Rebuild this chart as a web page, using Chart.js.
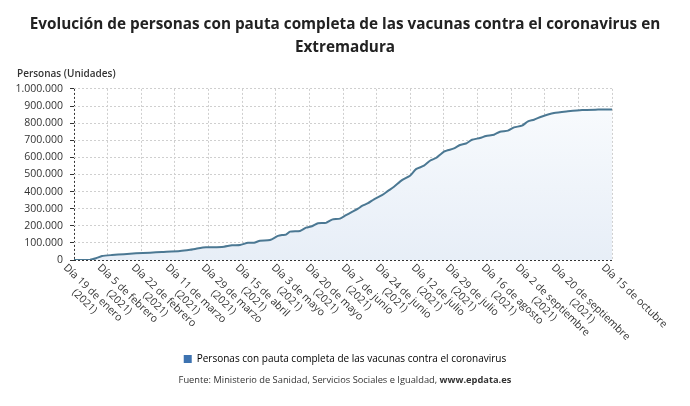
<!DOCTYPE html>
<html lang="es">
<head>
<meta charset="utf-8">
<title>Personas con pauta completa - Extremadura</title>
<script src="https://cdn.jsdelivr.net/npm/chart.js@4.4.1/dist/chart.umd.min.js"></script>
<style>
  html, body { margin: 0; padding: 0; background: #fff; }
</style>
</head>
<body>
<canvas id="grafico" width="690" height="406"></canvas>
<script>
// días transcurridos desde el 19 de enero de 2021
const dias = [0, 8, 11, 14, 19, 25, 31, 38, 44, 53, 58, 61, 66, 74, 79, 83, 87, 90, 93, 98,
  102, 104, 106, 108, 113, 116, 119, 122, 126, 129, 133, 136, 139, 142, 144, 147, 150, 154, 157, 160,
  164, 168, 171, 175, 178, 181, 185, 190, 193, 196, 199, 203, 206, 210, 213, 217, 220, 224, 227, 230,
  234, 240, 247, 254, 262, 269];
const personas = [0, 1000, 10000, 23000, 29000, 34000, 39000, 43000, 47000, 53000, 60000, 66000, 74000, 76000, 86000, 88000, 101000, 101000, 113000, 117000,
  141000, 146000, 148000, 166000, 170000, 189000, 197000, 215000, 217000, 236000, 242000, 262000, 281000, 300000, 316000, 332000, 355000, 379000, 404000, 428000,
  467000, 492000, 531000, 551000, 580000, 596000, 634000, 652000, 672000, 681000, 703000, 713000, 725000, 732000, 750000, 756000, 775000, 785000, 810000, 820000,
  839000, 859000, 869000, 877000, 879000, 880000];

const fechaInicio = '2021-01-19';
const fechaFin = '2021-10-15';
const fechasEtiqueta = ['2021-01-19', '2021-02-05', '2021-02-22', '2021-03-11', '2021-03-29', '2021-04-15',
  '2021-05-03', '2021-05-20', '2021-06-07', '2021-06-24', '2021-07-12', '2021-07-29', '2021-08-16',
  '2021-09-02', '2021-09-20', '2021-10-15'];
const textosEtiqueta = [
  ['Día 19 de enero', '(2021)'], ['Día 5 de febrero', '(2021)'], ['Día 22 de febrero', '(2021)'],
  ['Día 11 de marzo', '(2021)'], ['Día 29 de marzo', '(2021)'], ['Día 15 de abril', '(2021)'],
  ['Día 3 de mayo', '(2021)'], ['Día 20 de mayo', '(2021)'], ['Día 7 de junio', '(2021)'],
  ['Día 24 de junio', '(2021)'], ['Día 12 de julio', '(2021)'], ['Día 29 de julio', '(2021)'],
  ['Día 16 de agosto', '(2021)'], ['Día 2 de septiembre', '(2021)'], ['Día 20 de septiembre', '(2021)'],
  ['Día 15 de octubre']
];

const titulo = ['Evolución de personas con pauta completa de las vacunas contra el coronavirus en', 'Extremadura'];
const tituloEje = 'Personas (Unidades)';
const serie = 'Personas con pauta completa de las vacunas contra el coronavirus';
const fuente = 'Fuente: Ministerio de Sanidad, Servicios Sociales e Igualdad, ';
const fuenteWeb = 'www.epdata.es';

const diaDe = f => Math.round((Date.parse(f) - Date.parse(fechaInicio)) / 86400000);
const diaFinal = diaDe(fechaFin);
const miles = v => String(v).replace(/\B(?=(\d{3})+(?!\d))/g, '.');

Chart.defaults.font.family = '"Open Sans", sans-serif';
Chart.defaults.color = '#333';

// etiquetas del eje x inclinadas hacia la derecha y textos sueltos
const textosExtra = {
  id: 'textosExtra',
  afterDraw(chart) {
    const ctx = chart.ctx;
    const x = chart.scales.x;
    const base = chart.chartArea.bottom;
    ctx.save();
    ctx.fillStyle = '#333';
    ctx.textBaseline = 'middle';
    ctx.font = '10.5px "Open Sans"';
    fechasEtiqueta.forEach((f, i) => {
      const px = x.getPixelForValue(diaDe(f));
      const lineas = textosEtiqueta[i];
      ctx.save();
      ctx.translate(px - 9, base + 6);
      ctx.rotate(44 * Math.PI / 180);
      const w0 = ctx.measureText(lineas[0]).width;
      lineas.forEach((t, j) => {
        const w = ctx.measureText(t).width;
        ctx.fillText(t, (w0 - w) / 2, j * 12);
      });
      ctx.restore();
    });

    ctx.font = '600 10px "Open Sans"';
    ctx.textAlign = 'left';
    ctx.fillText(tituloEje, 17, 74);

    ctx.font = '9.3px "Open Sans"';
    const w1 = ctx.measureText(fuente).width;
    ctx.font = 'bold 9.3px "Open Sans"';
    const w2 = ctx.measureText(fuenteWeb).width;
    const x0 = chart.width / 2 - (w1 + w2) / 2;
    ctx.font = '9.3px "Open Sans"';
    ctx.fillText(fuente, x0, 380);
    ctx.font = 'bold 9.3px "Open Sans"';
    ctx.fillText(fuenteWeb, x0 + w1, 380);
    ctx.restore();
  }
};

new Chart(document.getElementById('grafico'), {
  type: 'line',
  data: {
    datasets: [{
      label: serie,
      data: dias.map((d, i) => ({ x: d, y: personas[i] })),
      borderColor: '#4b7893',
      borderWidth: 2,
      pointRadius: 0,
      tension: 0.2,
      fill: 'origin',
      backgroundColor: (c) => {
        const area = c.chart.chartArea;
        if (!area) return '#eef3f9';
        const g = c.chart.ctx.createLinearGradient(0, area.top, 0, area.bottom);
        g.addColorStop(0, '#fafcfe');
        g.addColorStop(1, '#e7eef7');
        return g;
      }
    }]
  },
  options: {
    responsive: false,
    animation: false,
    layout: { padding: { left: 0, right: 0, top: 0, bottom: 32 } },
    plugins: {
      title: {
        display: true,
        text: titulo,
        color: '#222',
        font: { size: 15.3, weight: 'bold', lineHeight: 1.5 },
        padding: { top: 13, bottom: 30 }
      },
      legend: {
        position: 'bottom',
        labels: {
          boxWidth: 8,
          boxHeight: 8,
          padding: 10,
          color: '#333',
          font: { size: 10 },
          generateLabels: () => [{
            text: serie,
            fillStyle: '#3d72b0',
            strokeStyle: '#3d72b0',
            lineWidth: 0,
            datasetIndex: 0
          }]
        }
      },
      tooltip: { enabled: false }
    },
    scales: {
      x: {
        type: 'linear',
        min: 0,
        max: diaFinal,
        afterBuildTicks: (s) => {
          s.ticks = Array.from({ length: 17 }, (_, i) => ({ value: i * diaFinal / 16 }));
        },
        afterFit: (s) => { s.height = 84; },
        ticks: { display: false },
        grid: {
          drawTicks: false,
          color: (c) => c.index === 0 ? '#333' : '#cfcfcf'
        },
        border: { display: false, dash: [2, 2] }
      },
      y: {
        min: 0,
        max: 1000000,
        afterFit: (s) => { s.width = 74; },
        ticks: {
          stepSize: 100000,
          padding: 7,
          color: '#333',
          font: { size: 10.5 },
          callback: (v) => miles(v)
        },
        grid: {
          drawTicks: true,
          tickLength: 4,
          tickColor: '#333',
          tickBorderDash: [],
          color: (c) => c.index === 0 ? '#333' : '#cfcfcf'
        },
        border: { display: false, dash: [2, 2] }
      },
      margen: {
        type: 'linear',
        position: 'right',
        afterFit: (s) => { s.width = 78; },
        ticks: { display: false },
        grid: { display: false },
        border: { display: false }
      }
    }
  },
  plugins: [textosExtra]
});
</script>
</body>
</html>
